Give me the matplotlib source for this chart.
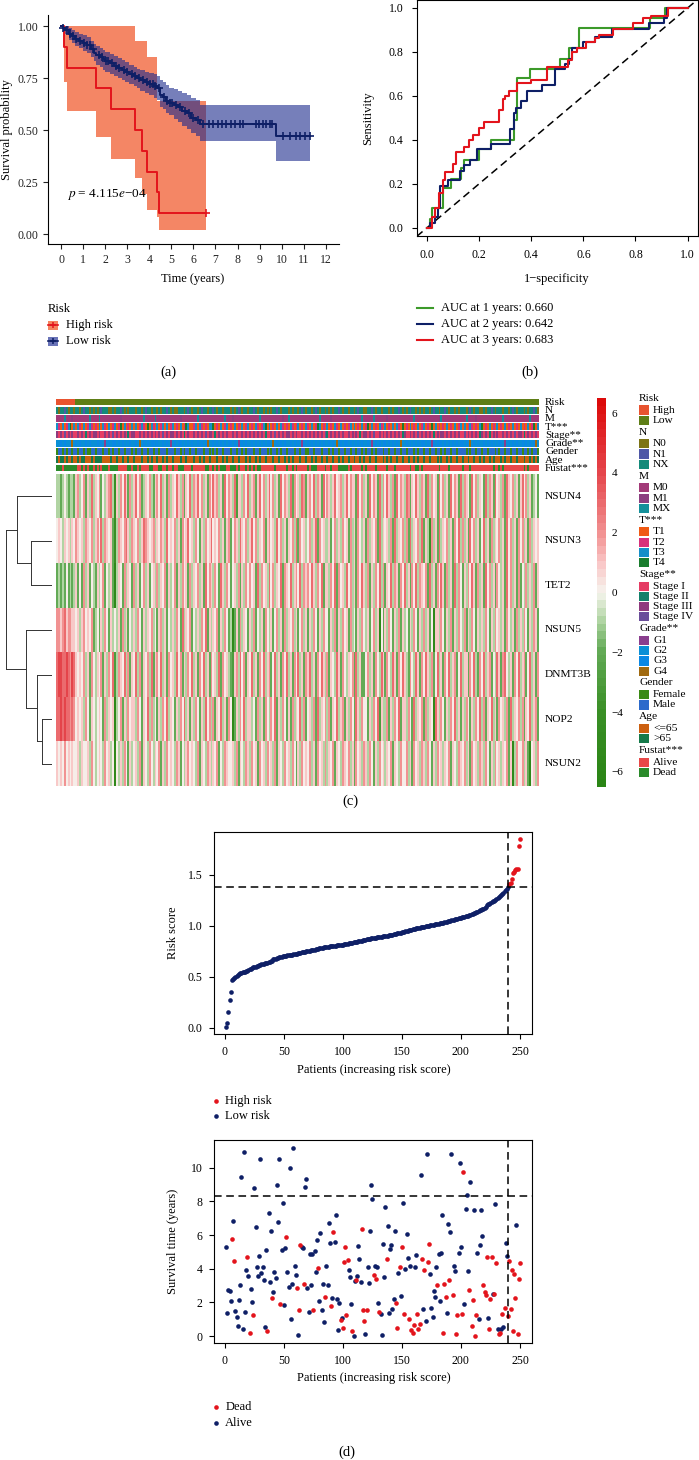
import numpy as np
import matplotlib.pyplot as plt
from matplotlib.colors import LinearSegmentedColormap, to_rgb
from matplotlib.patches import Rectangle

plt.rcParams['font.family'] = ['Liberation Serif', 'DejaVu Serif']
plt.rcParams['mathtext.fontset'] = 'stix'
plt.rcParams['axes.linewidth'] = 0.8
plt.rcParams['xtick.major.size'] = 3.5
plt.rcParams['ytick.major.size'] = 3.5

# ---------------- (a) Kaplan-Meier ----------------
high_t = [0, 0.15, 0.27, 1.6, 2.27, 3.36, 3.68, 3.9, 4.35, 4.45, 6.57]
high_s = [1.0, 0.9, 0.8, 0.7, 0.6, 0.5, 0.4, 0.3, 0.2, 0.1, 0.1]
high_lo = [1.0, 0.73, 0.59, 0.465, 0.36, 0.27, 0.19, 0.115, 0.08, 0.02, 0.02]
high_hi = [1.0, 1.0, 1.0, 1.0, 1.0, 0.93, 0.93, 0.85, 0.64, 0.64, 0.64]
high_cens = [6.57]

low_t = [0, 0.1, 0.2, 0.35, 0.5, 0.65, 0.8, 1.0, 1.2, 1.35, 1.5, 1.6, 1.75, 1.9, 2.0, 2.2, 2.4,
         2.6, 2.75, 2.9, 3.1, 3.3, 3.45, 3.6, 3.8, 4.0, 4.2, 4.35, 4.5, 4.6, 4.75, 4.9, 5.1, 5.3,
         5.5, 5.7, 5.9, 6.1, 6.3, 9.75, 11.3]
low_s = [1.0, 0.99, 0.98, 0.96, 0.95, 0.94, 0.93, 0.92, 0.91, 0.89, 0.87, 0.86, 0.85, 0.84, 0.83,
         0.82, 0.81, 0.80, 0.79, 0.78, 0.77, 0.76, 0.75, 0.74, 0.73, 0.72, 0.71, 0.70, 0.67, 0.66,
         0.64, 0.63, 0.62, 0.61, 0.59, 0.58, 0.56, 0.55, 0.53, 0.47, 0.47]
low_hi = [1.0, 1.0, 1.0, 0.99, 0.98, 0.97, 0.96, 0.955, 0.945, 0.93, 0.915, 0.905, 0.895, 0.885,
          0.875, 0.865, 0.855, 0.845, 0.835, 0.825, 0.815, 0.805, 0.795, 0.79, 0.78, 0.775, 0.77,
          0.76, 0.74, 0.73, 0.715, 0.70, 0.695, 0.69, 0.68, 0.67, 0.655, 0.645, 0.62, 0.62, 0.62]
low_lo = [1.0, 0.975, 0.96, 0.935, 0.92, 0.905, 0.895, 0.88, 0.87, 0.85, 0.83, 0.815, 0.805, 0.79,
          0.78, 0.77, 0.76, 0.75, 0.74, 0.73, 0.72, 0.71, 0.70, 0.69, 0.68, 0.67, 0.655, 0.645,
          0.61, 0.60, 0.58, 0.57, 0.555, 0.54, 0.52, 0.505, 0.485, 0.47, 0.445, 0.35, 0.35]
low_cens = [0.1, 0.25, 0.4, 0.55, 0.7, 0.85, 1.05, 1.2, 1.3, 1.45, 1.7, 1.85, 2.05, 2.15, 2.3, 2.5,
            2.65, 2.85, 3.0, 3.2, 3.35, 3.55, 3.7, 3.9, 4.05, 4.15, 4.25, 4.45, 4.65, 4.8, 4.95,
            5.05, 5.2, 5.4, 5.6, 5.8, 6.0, 6.2, 6.45, 6.7, 6.9, 7.1, 7.3, 7.5, 7.7, 7.9, 8.1, 8.25,
            8.83, 8.98, 9.16, 9.31, 9.46, 9.58, 10.07, 10.37, 10.64, 10.82, 11.05, 11.27]
km_pvalue = '4.115'

# ---------------- (b) ROC ----------------
roc_labels = ['AUC at 1 years: 0.660', 'AUC at 2 years: 0.642', 'AUC at 3 years: 0.683']
roc1_x = [0, 0.01, 0.02, 0.06, 0.09, 0.13, 0.14, 0.20, 0.245, 0.335, 0.345, 0.395, 0.51, 0.545,
          0.585, 0.855, 0.915, 1.0]
roc1_y = [0, 0.04, 0.09, 0.18, 0.22, 0.27, 0.31, 0.36, 0.40, 0.49, 0.68, 0.72, 0.77, 0.82, 0.91,
          0.955, 1.0, 1.0]
roc2_x = [0, 0.01, 0.03, 0.04, 0.05, 0.08, 0.125, 0.14, 0.165, 0.19, 0.245, 0.32, 0.335, 0.34,
          0.36, 0.385, 0.44, 0.49, 0.53, 0.545, 0.555, 0.60, 0.645, 0.71, 0.85, 0.91, 0.92, 1.0]
roc2_y = [0, 0.02, 0.05, 0.09, 0.19, 0.215, 0.26, 0.285, 0.31, 0.36, 0.38, 0.45, 0.52, 0.545,
          0.575, 0.62, 0.65, 0.72, 0.745, 0.77, 0.82, 0.845, 0.87, 0.905, 0.93, 0.955, 1.0, 1.0]
roc3_x = [0, 0.02, 0.03, 0.045, 0.06, 0.07, 0.10, 0.11, 0.14, 0.16, 0.175, 0.20, 0.22, 0.275,
          0.29, 0.30, 0.315, 0.345, 0.40, 0.46, 0.54, 0.555, 0.575, 0.61, 0.645, 0.66, 0.715,
          0.79, 0.83, 0.86, 0.925, 1.0]
roc3_y = [0, 0.05, 0.09, 0.16, 0.215, 0.255, 0.29, 0.345, 0.365, 0.40, 0.42, 0.455, 0.48, 0.535,
          0.585, 0.60, 0.62, 0.66, 0.67, 0.73, 0.765, 0.80, 0.82, 0.845, 0.865, 0.875, 0.905,
          0.93, 0.955, 0.965, 1.0, 1.0]

# ---------------- (d) risk score / survival ----------------
risk_score = [
    0.01, 0.05, 0.15, 0.27, 0.35, 0.47, 0.48, 0.49, 0.50, 0.51,
    0.52, 0.53, 0.54, 0.54, 0.55, 0.55, 0.55, 0.56, 0.56, 0.57,
    0.58, 0.58, 0.59, 0.60, 0.60, 0.60, 0.61, 0.61, 0.62, 0.62,
    0.63, 0.63, 0.63, 0.64, 0.64, 0.64, 0.65, 0.65, 0.66, 0.66,
    0.67, 0.67, 0.67, 0.68, 0.68, 0.69, 0.69, 0.69, 0.70, 0.70,
    0.70, 0.70, 0.71, 0.71, 0.71, 0.71, 0.71, 0.72, 0.72, 0.72,
    0.72, 0.73, 0.73, 0.73, 0.74, 0.74, 0.74, 0.74, 0.75, 0.75,
    0.75, 0.75, 0.76, 0.76, 0.76, 0.76, 0.77, 0.77, 0.77, 0.78,
    0.78, 0.78, 0.78, 0.79, 0.79, 0.79, 0.79, 0.79, 0.80, 0.80,
    0.80, 0.80, 0.80, 0.80, 0.81, 0.81, 0.81, 0.81, 0.81, 0.81,
    0.82, 0.82, 0.82, 0.82, 0.83, 0.83, 0.83, 0.83, 0.84, 0.84,
    0.84, 0.84, 0.85, 0.85, 0.85, 0.85, 0.86, 0.86, 0.86, 0.87,
    0.87, 0.87, 0.87, 0.88, 0.88, 0.88, 0.88, 0.88, 0.89, 0.89,
    0.89, 0.89, 0.89, 0.90, 0.90, 0.90, 0.90, 0.90, 0.91, 0.91,
    0.91, 0.91, 0.92, 0.92, 0.92, 0.93, 0.93, 0.93, 0.93, 0.94,
    0.94, 0.94, 0.95, 0.95, 0.95, 0.96, 0.96, 0.96, 0.97, 0.97,
    0.97, 0.98, 0.98, 0.98, 0.98, 0.99, 0.99, 0.99, 0.99, 1.00,
    1.00, 1.00, 1.00, 1.01, 1.01, 1.01, 1.01, 1.02, 1.02, 1.02,
    1.02, 1.03, 1.03, 1.03, 1.03, 1.04, 1.04, 1.04, 1.05, 1.05,
    1.05, 1.06, 1.06, 1.06, 1.07, 1.07, 1.07, 1.08, 1.08, 1.08,
    1.09, 1.09, 1.09, 1.10, 1.10, 1.10, 1.11, 1.11, 1.12, 1.12,
    1.13, 1.13, 1.14, 1.14, 1.15, 1.16, 1.16, 1.17, 1.17, 1.18,
    1.19, 1.20, 1.21, 1.21, 1.22, 1.23, 1.24, 1.24, 1.25, 1.26,
    1.27, 1.28, 1.29, 1.30, 1.31, 1.32, 1.34, 1.35, 1.36, 1.38,
    1.41, 1.42, 1.46, 1.52, 1.53, 1.55, 1.56, 1.56, 1.78, 1.85]
risk_cutoff = 1.38
cut_patient = 240
time_line = 8.33

surv_time = [
    5.26, 1.39, 2.72, 2.66, 2.08, 5.75, 6.85, 4.46, 1.51, 1.13,
    0.58, 2.12, 3.02, 9.42, 0.44, 10.95, 1.45, 3.93, 4.68, 3.55,
    0.18, 2.78, 2.02, 1.25, 8.81, 6.49, 4.13, 3.59, 4.74, 10.54,
    3.77, 4.11, 3.35, 0.54, 5.10, 0.28, 7.32, 3.19, 6.25, 2.26,
    2.62, 3.79, 3.47, 8.99, 6.79, 10.54, 1.90, 5.12, 7.92, 1.83,
    5.20, 5.89, 3.79, 2.92, 10.00, 1.03, 3.12, 11.19, 4.15, 3.63,
    2.88, 0.06, 1.55, 5.42, 5.26, 5.24, 3.12, 8.87, 9.33, 2.88,
    1.45, 4.86, 3.04, 4.90, 1.55, 5.06, 3.81, 5.71, 4.03, 2.08,
    6.13, 1.57, 3.12, 0.81, 2.34, 4.15, 3.06, 6.71, 5.54, 1.77,
    2.26, 6.17, 5.58, 7.16, 2.18, 0.34, 1.94, 0.93, 1.05, 0.48,
    4.40, 5.28, 1.25, 4.52, 3.91, 3.49, 1.92, 0.32, 0.02, 3.25,
    3.31, 3.57, 5.32, 4.58, 3.21, 6.33, 1.57, 0.91, 0.12, 1.57,
    4.11, 3.15, 6.21, 8.97, 8.15, 3.63, 4.19, 3.41, 4.11, 1.96,
    1.43, 1.31, 0.06, 5.48, 3.51, 7.64, 4.56, 6.51, 1.39, 5.18,
    5.38, 1.59, 2.18, 6.25, 1.96, 0.48, 3.77, 4.13, 2.38, 5.28,
    7.90, 1.33, 4.01, 6.07, 4.64, 1.01, 4.19, 0.34, 0.20, 0.65,
    4.13, 4.80, 1.33, 0.40, 0.71, 9.56, 4.56, 1.63, 3.95, 0.91,
    10.81, 4.38, 5.46, 3.67, 1.67, 1.11, 2.66, 2.30, 4.11, 3.02,
    4.90, 2.10, 4.92, 7.18, 0.20, 3.10, 2.30, 1.39, 6.67, 3.31,
    6.17, 10.83, 2.44, 4.19, 3.89, 0.14, 1.25, 4.92, 10.28, 5.30,
    1.31, 9.76, 1.90, 7.54, 8.35, 3.85, 2.74, 9.15, 0.58, 2.16,
    7.48, 0.02, 1.27, 4.94, 1.01, 5.38, 7.48, 5.95, 3.02, 2.60,
    2.42, 4.72, 1.07, 0.40, 2.20, 4.72, 2.50, 2.48, 7.86, 4.31,
    0.42, 0.10, 0.16, 0.40, 1.33, 0.56, 1.67, 5.54, 4.76, 1.21,
    4.48, 1.59, 3.91, 0.30, 3.69, 2.24, 6.57, 0.14, 3.39, 4.35]
# D = dead, A = alive (patients in increasing risk order)
surv_status = ("AAAAADADAA" "AAAAAAAADA" "DAADAAAAAA" "AAAAADAAAD" "AAAAAADAAA"
               "ADAAAAAAAA" "DADDAADAAA" "AAAADAAADA" "AAAADAAAAD" "ADAAAAADAD"
               "DDDDAAADAA" "DAAAADDDAD" "AAAAADADAA" "DAAAAADAAA" "AAAADDADAD"
               "ADAAADADDD" "AADDDADADA" "ADDAAAAAAD" "AAAADDDAAD" "AADAADDAAA"
               "DDAAAADADD" "ADDAAAAADD" "DDADDDADAD" "ADDADADAAD" "DDDDDDADDD")

# ---------------- (c) heatmap (columns: decreasing risk) ----------------
genes = ['NSUN4', 'NSUN3', 'TET2', 'NSUN5', 'DNMT3B', 'NOP2', 'NSUN2']
level_values = [-5.5, -4, -3, -2, -1, 0, 1, 2, 3, 4]   # for chars '0'..'9'
gene_rows = [
    # NSUN4
    "4434543443" "6745736484" "6573546784" "1647586374" "6857346574"
    "3675846374" "6586473658" "4768574637" "5867463857" "6482664758"
    "4673685746" "8574638576" "4837564873" "6758476385" "7646856746"
    "8576638574" "6385763847" "5864738576" "4873658647" "6384756385"
    "7463857638" "4765385746" "5384763856" "4738657463" "6857463453",
    # NSUN3
    "5654656465" "7656476574" "6758476563" "1476578647" "6574687656"
    "7465764856" "5746375685" "6475364756" "8565746367" "3576486574"
    "6857465736" "7564857463" "6574837564" "5746837564" "4635746475"
    "6374637546" "3746573846" "5647384657" "4738465748" "3641746384"
    "6574637584" "7463857463" "5846374657" "4638574637" "5746374656",
    # TET2
    "3434353434" "6353746354" "3645735463" "0465374653" "7463574635"
    "6474657364" "5736475637" "4657463857" "6475386475" "3564736475"
    "7563847564" "8574658376" "5846758476" "7586475836" "6475837564"
    "8574637586" "4736475847" "3658476375" "8463758476" "5738463758"
    "6374638475" "3647586374" "6385746375" "4638574637" "3547464736",
    # NSUN5
    "7767867766" "5646756573" "4536475364" "5463746354" "6475364657"
    "4536746354" "6475384657" "3546475836" "4657364753" "4036374653"
    "6473546375" "4635746374" "6574635746" "3647536475" "5364736475"
    "6374536475" "4635746053" "6475364736" "4536475364" "7463506647"
    "5364736475" "4736475364" "6475364756" "4637546374" "6475364763",
    # DNMT3B
    "8998898798" "6565746375" "4657364758" "2476584736" "5847365748"
    "3675846375" "6485736475" "8463758463" "7564837564" "3267485736"
    "5846375846" "7358463758" "4637584637" "6846375864" "7365486375"
    "4657384633" "5746375486" "3754863758" "6437548637" "5864735846"
    "3758467358" "4663758437" "5846735486" "3785463758" "4673584637",
    # NOP2
    "8898988787" "5656475365" "4565374656" "0457364756" "6475365847"
    "4536475846" "5364758463" "6475364857" "4736584637" "5036475846"
    "6453746375" "4758364753" "6374658473" "5647384657" "4736584673"
    "6475386475" "5364758264" "4736475836" "6475384657" "3746508647"
    "5364758463" "6475364758" "4736584637" "5647384657" "4736584673",
    # NSUN2
    "6565756565" "5646556475" "4565475645" "0546475364" "5647365475"
    "4657364756" "5476354675" "6547365476" "4657354765" "5647365476"
    "4756375647" "5647365475" "6475364756" "5746375647" "4657365476"
    "5746375647" "6475364756" "4657365475" "5746375647" "6475364756"
    "4657365476" "5746375647" "6475364756" "4657360475" "5746305647",
]
ann_N = ("X0XX1X0XX0" "XX0X1XX0X0" "X0X1XXX00X" "0XX1X0X0XX" "X0XX0X1XX0"
         "XX0X0XX1X0" "X00XXX0X1X" "0XX0X1XX0X" "X1X0XX0XXX" "0X0X1X0XX0"
         "XX1X0XX0X0" "X0XX1X0XXX" "0X0XX0X1X0" "XX0X1X0XX0" "X0X0XX1X0X"
         "X0XX0X1XX0" "0XX1X0XX0X" "XX0X0XX1X0" "X0X1XX0X0X" "0XX0X1XX0X"
         "X1X0XX0X0X" "XX0X1X0XX0" "0X0XX1X0XX" "X0XX0X1X0X" "XX0X0XX1X0")
ann_M = ("0000X00010" "0000000X00" "00X0000000" "0001000000" "00000X0000"
         "0X00000000" "0000100000" "000X000000" "0000000X00" "0100000000"
         "00000X0000" "0000000100" "X000000000" "000000X000" "0010000000"
         "00000000X0" "0000X00000" "0100000000" "00000X0000" "000000001X"
         "0000000000" "00X0000100" "0000000000" "0X00000000" "00000X0000")
ann_T = ("3213123413" "1321312321" "2131321312" "3124131213" "1312321413"
         "2131231312" "3121312431" "1231321213" "3412131231" "2131213123"
         "1213212341" "3121313212" "1321231213" "2131243121" "3121321312"
         "1231312131" "2413121321" "3121313214" "1213121312" "3121413121"
         "2131213123" "1312321213" "4121312131" "2131213121" "3121312413")
ann_stage = ("3131413131" "1313121313" "3131131314" "1313131213" "3113131313"
             "1313141313" "3131312131" "1313131413" "3121313131" "1313113131"
             "3131313121" "1314131313" "3131311313" "1313131314" "2131313131"
             "1313131213" "3131411313" "1313131312" "3113131413" "1313121313"
             "3131313131" "1413131312" "3131213131" "1313131413" "3121313131")
ann_grade = ("2232322342" "3232232322" "2323212323" "3232323232" "2324232323"
             "3232232321" "2323323232" "3223232342" "2323232323" "3232123232"
             "2323232323" "3242323232" "2323232132" "3232323232" "2323242323"
             "3232323232" "2321232323" "3232323242" "2323232323" "3232132323"
             "2323232323" "3232423232" "2323232323" "3212323232" "2323232342")
ann_gender = ("FMMFMFMMFM" "MFMMFMFFMM" "FMMMFMMFMF" "MMFMMFMMMF" "MFMMFMMFMM"
              "FMMFMMMFMM" "MFMMFMFMMF" "MMFMMMFMMF" "MFMFMMFMMM" "FMMFMMFMFM"
              "MMFMMFMMMF" "MFMMFMFMMF" "MMMFMMFMMF" "FMMFMMMFMM" "MFMFMMFMMF"
              "MMFMMFMMFM" "FMMFMFMMMF" "MMFMMFMMFM" "MFMMMFMFMM" "FMMFMMFMMF"
              "MFMMFMMFMM" "MMFMFMMFMM" "FMMFMMMFMF" "MMFMMFMMFM" "MFMMFMFMMF")
ann_age = ("OYOOYOYYOY" "YOYOOYYYOY" "OOOOYYYYOY" "YOYYOYYOYY" "OYYYOYYOYO"
           "YYOYYOYOYY" "OYYYOYYOYY" "YOYYOYOYYO" "YYYOYYOYOY" "YOYYOYYYOY"
           "OYYOYOYYOY" "YYOYYOYYOY" "OYOYYYOYYO" "YYOYOYYOYY" "OYYOYYOYOY"
           "YOYYOYYOYO" "YYOYYOYYYO" "YOYOYYOYYO" "YYOYYOYOYY" "OYYOYYYOYO"
           "YYOYOYYOYY" "OYYOYYOYYO" "YOYYOYOYYY" "OYOYYOYYOY" "YYOYYOYOYO")

ann_names = ['Risk', 'N', 'M', 'T***', 'Stage**', 'Grade**', 'Gender', 'Age', 'Fustat***']
legend_groups = [
    ('Risk', ['High', 'Low']),
    ('N', ['N0', 'N1', 'NX']),
    ('M', ['M0', 'M1', 'MX']),
    ('T***', ['T1', 'T2', 'T3', 'T4']),
    ('Stage**', ['Stage I', 'Stage II', 'Stage III', 'Stage IV']),
    ('Grade**', ['G1', 'G2', 'G3', 'G4']),
    ('Gender', ['Female', 'Male']),
    ('Age', ['<=65', '>65']),
    ('Fustat***', ['Alive', 'Dead']),
]
legend_colors = [
    ['#E8532F', '#5E7E16'],
    ['#7C7416', '#4F58A6', '#148A7A'],
    ['#A23A78', '#8C3F80', '#14909A'],
    ['#F05A14', '#D8307A', '#158FC8', '#1A7D2E'],
    ['#E53C64', '#13806A', '#8E3A7E', '#6A4E9A'],
    ['#8A3E8E', '#0A8FD6', '#0A88E4', '#A06A10'],
    ['#3A8A14', '#2C6ACB'],
    ['#CC6010', '#157A4A'],
    ['#E84848', '#2A8A2A'],
]
dend_merges = [(1, 2, 0.45), (5, 6, 0.22), (4, 8, 0.32), (0, 7, 0.75), (3, 9, 0.57), (10, 11, 1.0)]

# ---------------- figure ----------------
W, H = 699, 1460
fig = plt.figure(figsize=(W / 100, H / 100), dpi=100)
ov = fig.add_axes([0, 0, 1, 1])
ov.set_xlim(0, W)
ov.set_ylim(H, 0)
ov.axis('off')


def px_axes(x0, y0, x1, y1):
    return fig.add_axes([x0 / W, 1 - y1 / H, (x1 - x0) / W, (y1 - y0) / H])


RED = '#E3141C'
NAVY = '#0E1F66'
GREEN = '#3C9A2A'
fs_tick = 8.5
fs_lab = 9

# (a)
ax = px_axes(48, 15, 339, 244)
ax.fill_between(high_t, high_lo, high_hi, step='post', color='#F2683F', alpha=0.8, lw=0)
ax.fill_between(low_t, low_lo, low_hi, step='post', color='#1B2A8C', alpha=0.6, lw=0)
ax.step(high_t, high_s, where='post', color=RED, lw=1.4)
ax.step(low_t, low_s, where='post', color=NAVY, lw=1.4)


def surv_at(times, t_grid, s_grid):
    idx = np.searchsorted(t_grid, times, side='right') - 1
    return np.asarray(s_grid)[idx]


ax.plot(low_cens, surv_at(low_cens, low_t, low_s), '+', color=NAVY, ms=6, mew=1.2)
ax.plot(high_cens, surv_at(high_cens, high_t, high_s), '+', color=RED, ms=6, mew=1.2)
ax.text(0.25, 0.19, r'$p$ = ' + km_pvalue + r'$e$−04', fontsize=9.5, va='center')
ax.set_xlim(-0.59, 12.6)
ax.set_ylim(-0.048, 1.053)
ax.set_xticks(range(0, 13))
ax.set_yticks([0, 0.25, 0.5, 0.75, 1.0])
ax.set_yticklabels(['0.00', '0.25', '0.50', '0.75', '1.00'])
for s in ['top', 'right']:
    ax.spines[s].set_visible(False)
ax.tick_params(labelsize=fs_tick, colors='#222222')
ov.text(7.5, 130, 'Survival probability', rotation=90, ha='center', va='center', fontsize=fs_lab)
ov.text(193, 279, 'Time (years)', ha='center', va='center', fontsize=fs_lab)
ov.text(48, 309, 'Risk', ha='left', va='center', fontsize=fs_lab)
for yy, col, fc, lab in [(325, RED, '#F4845F', 'High risk'), (341, NAVY, '#6A74B8', 'Low risk')]:
    ov.add_patch(Rectangle((48, yy - 4.5), 10, 9, color=fc, lw=0))
    ov.plot([48, 58], [yy, yy], color=col, lw=1.2)
    ov.plot([53], [yy], '+', color=col, ms=5, mew=1.1)
    ov.text(66, yy, lab, ha='left', va='center', fontsize=fs_lab)
ov.text(168, 372, '(a)', ha='center', va='center', fontsize=10.5)

# (b)
ax = px_axes(416.7, 0.3, 698, 236)
ax.plot([-0.04, 1.04], [-0.04, 1.04], '--', color='black', lw=1.1, dashes=(5, 3))
for xs, ys, col in [(roc1_x, roc1_y, GREEN), (roc2_x, roc2_y, NAVY), (roc3_x, roc3_y, RED)]:
    ax.step(xs, ys, where='post', color=col, lw=1.5)
ax.set_xlim(-0.04, 1.04)
ax.set_ylim(-0.038, 1.035)
ax.set_xticks(np.arange(0, 1.01, 0.2))
ax.set_yticks(np.arange(0, 1.01, 0.2))
ax.set_xticklabels(['0.0', '0.2', '0.4', '0.6', '0.8', '1.0'])
ax.set_yticklabels(['0.0', '0.2', '0.4', '0.6', '0.8', '1.0'])
ax.tick_params(labelsize=fs_tick, pad=6)
ov.text(368, 118, 'Sensitivity', rotation=90, ha='center', va='center', fontsize=fs_lab)
ov.text(556.7, 279, '1−specificity', ha='center', va='center', fontsize=fs_lab)
for i, (lab, col) in enumerate(zip(roc_labels, [GREEN, NAVY, RED])):
    yy = 308 + 16 * i
    ov.plot([417, 433], [yy, yy], color=col, lw=1.5)
    ov.text(440.7, yy, lab, ha='left', va='center', fontsize=fs_lab)
ov.text(530, 372, '(b)', ha='center', va='center', fontsize=10.5)

# (c) annotations
n_col = len(risk_score)
risk_desc = list(reversed(risk_score))
status_desc = list(reversed(surv_status))
ann_codes = [
    ['High' if r > risk_cutoff else 'Low' for r in risk_desc],
    [{'0': 'N0', '1': 'N1', 'X': 'NX'}[c] for c in ann_N],
    [{'0': 'M0', '1': 'M1', 'X': 'MX'}[c] for c in ann_M],
    ['T' + c for c in ann_T],
    [['Stage I', 'Stage II', 'Stage III', 'Stage IV'][int(c) - 1] for c in ann_stage],
    ['G' + c for c in ann_grade],
    [{'F': 'Female', 'M': 'Male'}[c] for c in ann_gender],
    [{'Y': '<=65', 'O': '>65'}[c] for c in ann_age],
    [{'A': 'Alive', 'D': 'Dead'}[c] for c in status_desc],
]
axa = px_axes(56, 399, 539, 471.3)
pitch, row_h = 8.29, 6.3
for i, codes in enumerate(ann_codes):
    cmap_row = dict(zip(legend_groups[i][1], legend_colors[i]))
    rgb = np.array([[to_rgb(cmap_row[c]) for c in codes]])
    top = i * pitch
    axa.imshow(rgb, extent=(0, len(codes), top + row_h, top), aspect='auto',
               interpolation='nearest')
    ov.text(545, 399 + top + row_h / 2, ann_names[i], ha='left', va='center', fontsize=8)
axa.set_xlim(0, n_col)
axa.set_ylim(72.3, 0)
axa.axis('off')

# (c) expression heatmap
vals = np.array([[level_values[int(c)] for c in row] for row in gene_rows])
cmap = LinearSegmentedColormap.from_list(
    'gwr', [(0, '#2A8515'), (0.19, '#3A8F26'), (0.35, '#64AB57'), (0.42, '#A9D19B'),
            (0.5, '#F6F4EE'), (0.58, '#F9C4C4'), (0.65, '#F29494'), (0.81, '#E5474D'),
            (1.0, '#DC0A0A')], N=50)
axh = px_axes(56, 474, 539, 786)
im = axh.imshow(vals, cmap=cmap, vmin=-6.5, vmax=6.5, aspect='auto', interpolation='nearest')
axh.axis('off')
for i, g in enumerate(genes):
    ov.text(545, 474 + (i + 0.5) * 312 / 7, g, ha='left', va='center', fontsize=8.2)

# dendrogram
axd = px_axes(2, 474, 52, 786)
node_y = {i: float(i) for i in range(len(genes))}
node_h = {i: 0.0 for i in range(len(genes))}
for k, (a, b, h) in enumerate(dend_merges):
    nid = len(genes) + k
    for c in (a, b):
        axd.plot([node_h[c], h], [node_y[c], node_y[c]], color='#333333', lw=0.7)
    axd.plot([h, h], [node_y[a], node_y[b]], color='#333333', lw=0.7)
    node_y[nid] = (node_y[a] + node_y[b]) / 2
    node_h[nid] = h
axd.set_xlim(1.08, 0)
axd.set_ylim(6.5, -0.5)
axd.axis('off')

# colorbar
cax = px_axes(597.3, 398.3, 605.7, 786.7)
cb = fig.colorbar(im, cax=cax, ticks=[-6, -4, -2, 0, 2, 4, 6])
cb.outline.set_visible(False)
cb.ax.tick_params(length=0, labelsize=8, pad=4)
cb.ax.set_yticklabels(['−6', '−4', '−2', '0', '2', '4', '6'])

# legend of annotations
yy = 398.3
for gi, (title, labels) in enumerate(legend_groups):
    ov.text(639, yy, title, ha='left', va='center', fontsize=8.2)
    yy += 11.76
    for lab, col in zip(labels, legend_colors[gi]):
        ov.add_patch(Rectangle((639, yy - 4.6), 10, 9.2, color=col, lw=0))
        ov.text(653, yy, lab, ha='left', va='center', fontsize=8.2)
        yy += 10.25
    yy += 11.76 - 10.25
ov.text(350, 801, '(c)', ha='center', va='center', fontsize=10.5)

# (d) risk score
patients = np.arange(1, n_col + 1)
rs = np.array(risk_score)
is_high = rs > risk_cutoff
ax = px_axes(214.3, 831.7, 531.7, 1034.3)
ax.scatter(patients[~is_high], rs[~is_high], s=11, color=NAVY, lw=0)
ax.scatter(patients[is_high], rs[is_high], s=11, color=RED, lw=0)
ax.axhline(risk_cutoff, color='black', ls='--', lw=1.1, dashes=(5, 3))
ax.axvline(cut_patient, color='black', ls='--', lw=1.1, dashes=(5, 3))
ax.set_xlim(1 - 9.96, n_col + 9.96)
ax.set_ylim(-0.064, 1.924)
ax.set_xticks([0, 50, 100, 150, 200, 250])
ax.set_yticks([0, 0.5, 1.0, 1.5])
ax.set_yticklabels(['0.0', '0.5', '1.0', '1.5'])
ax.tick_params(labelsize=fs_tick, pad=5)
ov.text(173.3, 933, 'Risk score', rotation=90, ha='center', va='center', fontsize=fs_lab)
ov.text(374, 1070, 'Patients (increasing risk score)', ha='center', va='center', fontsize=fs_lab)
for yy, col, lab in [(1101, RED, 'High risk'), (1116, NAVY, 'Low risk')]:
    ov.scatter([216], [yy], s=11, color=col, lw=0)
    ov.text(225.3, yy, lab, ha='left', va='center', fontsize=fs_lab)

# (d) survival status
st = np.array(surv_time)
dead = np.array([c == 'D' for c in surv_status])
ax = px_axes(214.3, 1140, 531.7, 1343.3)
ax.scatter(patients[~dead], st[~dead], s=11, color=NAVY, lw=0)
ax.scatter(patients[dead], st[dead], s=11, color=RED, lw=0)
ax.axhline(time_line, color='black', ls='--', lw=1.1, dashes=(5, 3))
ax.axvline(cut_patient, color='black', ls='--', lw=1.1, dashes=(5, 3))
ax.set_xlim(1 - 9.96, n_col + 9.96)
ax.set_ylim(-0.427, 11.64)
ax.set_xticks([0, 50, 100, 150, 200, 250])
ax.set_yticks([0, 2, 4, 6, 8, 10])
ax.tick_params(labelsize=fs_tick, pad=5)
ov.text(173.3, 1241.7, 'Survival time (years)', rotation=90, ha='center', va='center',
        fontsize=fs_lab)
ov.text(374, 1378.3, 'Patients (increasing risk score)', ha='center', va='center',
        fontsize=fs_lab)
for yy, col, lab in [(1406.7, RED, 'Dead'), (1423.3, NAVY, 'Alive')]:
    ov.scatter([216], [yy], s=11, color=col, lw=0)
    ov.text(225.3, yy, lab, ha='left', va='center', fontsize=fs_lab)
ov.text(347, 1452, '(d)', ha='center', va='center', fontsize=10.5)

fig.savefig('out.png', dpi=100)
